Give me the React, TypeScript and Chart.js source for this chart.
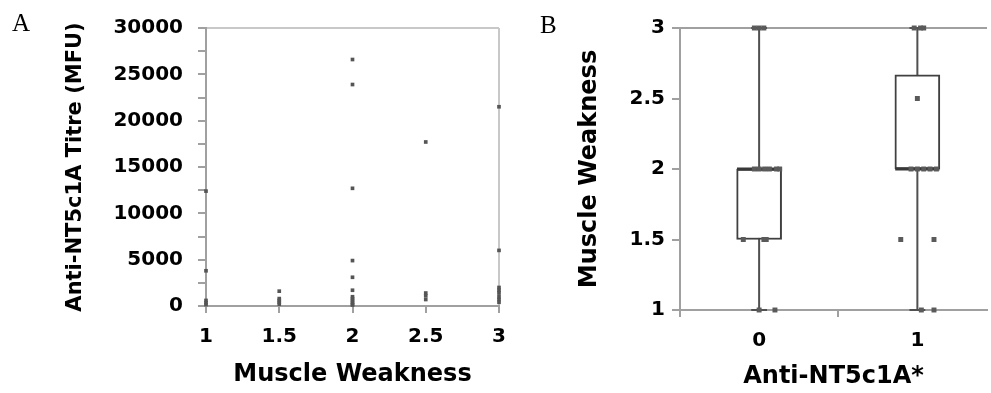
import React, { useEffect, useRef } from 'react';
import { Chart, registerables } from 'chart.js';

Chart.register(...registerables);

// ---------- Panel A data ----------
const weaknessLevels = [1, 1.5, 2, 2.5, 3];
const titresAtW1 = [12400, 3800, 600, 350, 150];
const titresAtW15 = [1600, 800, 600, 400, 200];
const titresAtW2 = [26600, 23900, 12700, 4900, 3100, 1700, 1000, 800, 600, 400, 200, 100];
const titresAtW25 = [17700, 1400, 1100, 700];
const titresAtW3 = [21500, 6000, 2000, 1700, 1400, 1000, 700, 400];
const titreTickValues = [0, 2500, 5000, 7500, 10000, 12500, 15000, 17500, 20000, 22500, 25000, 27500, 30000];

// ---------- Panel B data ----------
const antibodyGroups = [0, 1];
const groupMin = [1, 1];
const groupQ1 = [1.5, 2];
const groupMedian = [2, 2];
const groupQ3 = [2, 2.667];
const groupMax = [3, 3];
const negWeakness = [3, 3, 3, 2, 2, 2, 2, 2, 2, 1.5, 1.5, 1.5, 1, 1];
const negJitter = [-0.03, 0, 0.03, -0.03, 0, 0.035, 0.065, 0.11, 0.13, -0.1, 0.03, 0.045, 0, 0.1];
const posWeakness = [3, 3, 3, 2.5, 2, 2, 2, 2, 2, 1.5, 1.5, 1, 1];
const posJitter = [-0.02, 0.02, 0.04, 0, -0.04, 0, 0.04, 0.08, 0.12, -0.105, 0.105, 0.025, 0.105];
const weaknessTickValues = [1, 1.5, 2, 2.5, 3];
const groupTickValues = [-0.5, 0, 0.5, 1];

const FONT = "'DejaVu Sans', sans-serif";
const AXIS_GREY = '#a0a0a0';
const LIGHT_GREY = '#c8c8c8';

export default function App() {
  const refA = useRef<HTMLCanvasElement>(null);
  const refB = useRef<HTMLCanvasElement>(null);

  useEffect(() => {
    const levelData: [number, number[]][] = [
      [weaknessLevels[0], titresAtW1],
      [weaknessLevels[1], titresAtW15],
      [weaknessLevels[2], titresAtW2],
      [weaknessLevels[3], titresAtW25],
      [weaknessLevels[4], titresAtW3],
    ];
    const pointsA = levelData.flatMap(([w, arr]) => arr.map((t) => ({ x: w, y: t })));

    const chartA = new Chart(refA.current!, {
      type: 'scatter',
      data: {
        datasets: [
          {
            data: pointsA,
            pointStyle: 'rect',
            pointRadius: 2.6,
            pointBackgroundColor: '#555',
            pointBorderWidth: 0,
            clip: false,
          } as any,
        ],
      },
      options: {
        animation: false,
        responsive: false,
        devicePixelRatio: 1,
        layout: { padding: { left: 0, right: 21, top: 28, bottom: 0 } },
        plugins: { legend: { display: false }, tooltip: { enabled: false } },
        scales: {
          x: {
            type: 'linear',
            min: 1,
            max: 3,
            afterBuildTicks: (s: any) => {
              s.ticks = weaknessLevels.map((v) => ({ value: v }));
            },
            afterFit: (s: any) => {
              s.height = 87;
            },
            grid: {
              color: (c: any) => (c.tick && c.tick.value === 3 ? LIGHT_GREY : 'transparent'),
              tickColor: AXIS_GREY,
              tickLength: 7,
              lineWidth: 2,
            },
            border: { color: AXIS_GREY, width: 2 },
            ticks: {
              font: { family: FONT, size: 20, weight: 'bold' },
              color: '#000',
              padding: 12,
              autoSkip: false,
              maxRotation: 0,
              callback: (v: any) => String(v),
            },
            title: {
              display: true,
              text: 'Muscle Weakness',
              font: { family: FONT, size: 24, weight: 'bold' },
              color: '#000',
              padding: { top: 0, bottom: 4 },
            },
          },
          y: {
            type: 'linear',
            min: 0,
            max: 30000,
            afterBuildTicks: (s: any) => {
              s.ticks = titreTickValues.map((v) => ({ value: v }));
            },
            afterFit: (s: any) => {
              s.width = 206;
            },
            grid: {
              color: (c: any) => (c.tick && c.tick.value === 30000 ? LIGHT_GREY : 'transparent'),
              tickColor: AXIS_GREY,
              tickLength: 8,
              lineWidth: 2,
            },
            border: { color: AXIS_GREY, width: 2 },
            ticks: {
              font: { family: FONT, size: 20, weight: 'bold' },
              color: '#000',
              padding: 15,
              autoSkip: false,
              callback: (v: any) => (Number(v) % 5000 === 0 ? String(v) : ''),
            },
            title: {
              display: true,
              text: 'Anti-NT5c1A Titre (MFU)',
              font: { family: FONT, size: 21, weight: 'bold' },
              color: '#000',
              padding: { top: 63, bottom: 0 },
            },
          },
        },
      },
    } as any);

    const pointsB = [
      ...negWeakness.map((w, i) => ({ x: antibodyGroups[0] + negJitter[i], y: w })),
      ...posWeakness.map((w, i) => ({ x: antibodyGroups[1] + posJitter[i], y: w })),
    ];
    const whiskers: any[] = [];
    const medians: any[] = [];
    antibodyGroups.forEach((g, i) => {
      whiskers.push({ x: g, y: groupMin[i] }, { x: g, y: groupMax[i] }, { x: g, y: null });
      whiskers.push({ x: g - 0.05, y: groupMin[i] }, { x: g + 0.05, y: groupMin[i] }, { x: g, y: null });
      whiskers.push({ x: g - 0.05, y: groupMax[i] }, { x: g + 0.05, y: groupMax[i] }, { x: g, y: null });
      medians.push({ x: g - 0.14, y: groupMedian[i] }, { x: g + 0.14, y: groupMedian[i] }, { x: g, y: null });
    });
    const boxes = antibodyGroups.map((g, i) => ({ x: g, y: [groupQ1[i], groupQ3[i]] }));

    const chartB = new Chart(refB.current!, {
      type: 'scatter',
      data: {
        datasets: [
          {
            type: 'line',
            data: whiskers,
            borderColor: '#505050',
            borderWidth: 2,
            pointRadius: 0,
            showLine: true,
            spanGaps: false,
            clip: false,
            order: 3,
          },
          {
            type: 'bar',
            data: boxes,
            backgroundColor: '#ffffff',
            borderColor: '#404040',
            borderWidth: 2,
            borderSkipped: false,
            barThickness: 45,
            order: 2,
          },
          {
            type: 'line',
            data: medians,
            borderColor: '#383838',
            borderWidth: 3,
            pointRadius: 0,
            showLine: true,
            spanGaps: false,
            order: 1,
          },
          {
            type: 'scatter',
            data: pointsB,
            pointStyle: 'rect',
            pointRadius: 3.5,
            pointBackgroundColor: '#5a5a5a',
            pointBorderWidth: 0,
            clip: false,
            order: 0,
          },
        ],
      },
      options: {
        animation: false,
        responsive: false,
        devicePixelRatio: 1,
        layout: { padding: { left: 0, right: 0, top: 28, bottom: 0 } },
        plugins: { legend: { display: false }, tooltip: { enabled: false } },
        scales: {
          x: {
            type: 'linear',
            min: -0.5,
            max: 1.44,
            offset: false,
            afterBuildTicks: (s: any) => {
              s.ticks = groupTickValues.map((v) => ({ value: v }));
            },
            afterFit: (s: any) => {
              s.height = 83;
            },
            grid: {
              offset: false,
              color: 'transparent',
              tickColor: (c: any) =>
                c.tick && (c.tick.value === 0 || c.tick.value === 1) ? 'transparent' : AXIS_GREY,
              tickLength: 7,
              lineWidth: 2,
            },
            border: { color: AXIS_GREY, width: 2 },
            ticks: {
              font: { family: FONT, size: 20, weight: 'bold' },
              color: '#000',
              padding: 12,
              autoSkip: false,
              maxRotation: 0,
              callback: (v: any) => (v === 0 ? '0' : v === 1 ? '1' : ''),
            },
            title: {
              display: true,
              text: 'Anti-NT5c1A*',
              font: { family: FONT, size: 24, weight: 'bold' },
              color: '#000',
              padding: { top: 0, bottom: 2 },
            },
          },
          y: {
            type: 'linear',
            min: 1,
            max: 3,
            afterBuildTicks: (s: any) => {
              s.ticks = weaknessTickValues.map((v) => ({ value: v }));
            },
            afterFit: (s: any) => {
              s.width = 160;
            },
            grid: {
              color: (c: any) => (c.tick && c.tick.value === 3 ? AXIS_GREY : 'transparent'),
              tickColor: AXIS_GREY,
              tickLength: 8,
              lineWidth: 2,
            },
            border: { color: AXIS_GREY, width: 2 },
            ticks: {
              font: { family: FONT, size: 20, weight: 'bold' },
              color: '#000',
              padding: 7,
              autoSkip: false,
              callback: (v: any) => String(v),
            },
            title: {
              display: true,
              text: 'Muscle Weakness',
              font: { family: FONT, size: 24, weight: 'bold' },
              color: '#000',
              padding: { top: 55, bottom: 0 },
            },
          },
        },
      },
    } as any);

    return () => {
      chartA.destroy();
      chartB.destroy();
    };
  }, []);

  const panelLabel: React.CSSProperties = {
    position: 'absolute',
    fontFamily: "'Liberation Serif', serif",
    fontSize: 25,
    lineHeight: '25px',
    color: '#000',
  };

  return (
    <div style={{ position: 'fixed', left: 0, top: 0, width: 991, height: 393, background: '#fff', overflow: 'hidden' }}>
      <canvas ref={refA} width={520} height={393} style={{ position: 'absolute', left: 0, top: 0 }} />
      <canvas ref={refB} width={471} height={393} style={{ position: 'absolute', left: 520, top: 0 }} />
      <div style={{ ...panelLabel, left: 12, top: 10 }}>A</div>
      <div style={{ ...panelLabel, left: 540, top: 12 }}>B</div>
    </div>
  );
}
